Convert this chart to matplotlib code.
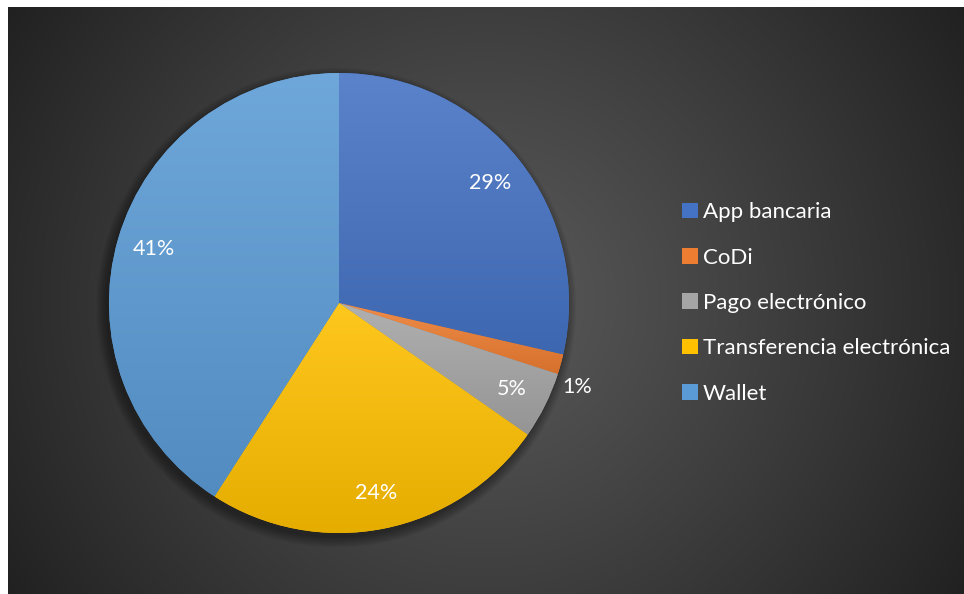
import numpy as np
import matplotlib
matplotlib.use("Agg")
from matplotlib import pyplot as plt
from matplotlib.colors import to_rgb
from matplotlib.patches import Patch, Circle

plt.rcParams['font.family'] = ['Lato', 'DejaVu Sans']

categories = ["App bancaria", "CoDi", "Pago electrónico",
              "Transferencia electrónica", "Wallet"]
shares = [28.6, 1.4, 4.7, 24.4, 40.9]
colors = ["#4472C4", "#ED7D31", "#A5A5A5", "#FFC000", "#5B9BD5"]

W, H = 964, 594
fig = plt.figure(figsize=(W / 100, H / 100), dpi=100)
fig.patch.set_facecolor("white")

# dark radial background, leaving a thin white margin left and top
bg = fig.add_axes([8 / W, 0, 1 - 8 / W, 1 - 7 / H])
bg.set_axis_off()
yy, xx = np.mgrid[0:1:400j, 0:1:600j]
d = np.sqrt(((xx - 0.5) * 1.6) ** 2 + (yy - 0.5) ** 2) / np.sqrt(0.8 ** 2 + 0.25)
shade = 0.35 - 0.22 * np.clip(d, 0, 1) ** 1.1
bg.imshow(np.dstack([shade] * 3), extent=(0, 1, 0, 1), aspect="auto",
          interpolation="bilinear")
bg.set_xlim(0, 1)
bg.set_ylim(0, 1)

# pie axes: centre at (339, 303) px, radius 230 px
cx, cy, r = 339, 303, 230
half = 250
ax = fig.add_axes([(cx - half) / W, (H - cy - half) / H, 2 * half / W, 2 * half / H])
ax.set_axis_off()
lim = half / r

# soft shadow under the pie
for k in range(8):
    ax.add_patch(Circle((-0.012, -0.02), 1.0 + 0.006 * k, color="black",
                        alpha=0.05, lw=0, zorder=0))

wedges, texts, autotexts = ax.pie(
    shares, colors=colors, startangle=90, counterclock=False,
    autopct="%.0f%%", pctdistance=0.84,
    wedgeprops=dict(linewidth=0),
    textprops=dict(color="white", fontsize=15.5))
ax.set_xlim(-lim, lim)
ax.set_ylim(-lim, lim)
ax.set_aspect("auto")

# vertical gradient inside every slice, lighter at the top
for w, c in zip(wedges, colors):
    base = np.array(to_rgb(c))
    top = base + (1 - base) * 0.12
    bot = base * 0.9
    t = np.linspace(0, 1, 256)[:, None]
    grad = top[None, :] * (1 - t) + bot[None, :] * t
    x0, y0, x1, y1 = w.get_path().get_extents(w.get_patch_transform()).extents
    im = ax.imshow(grad[:, None, :].repeat(2, axis=1), extent=(x0, x1, y0, y1),
                   aspect="auto", interpolation="bilinear", zorder=1.5)
    im.set_clip_path(w)
    w.set_zorder(1)
for t_ in autotexts:
    t_.set_zorder(3)

# the tiny CoDi slice gets its label outside
w = wedges[1]
mid = np.deg2rad((w.theta1 + w.theta2) / 2 - 4)
autotexts[1].set_position((1.1 * np.cos(mid), 1.1 * np.sin(mid)))

handles = [Patch(facecolor=c, edgecolor="none") for c in colors]
leg = fig.legend(handles, categories, loc="center left",
                 bbox_to_anchor=(662 / W, 1 - 303 / H), frameon=False,
                 fontsize=16, labelcolor="white", handlelength=0.7,
                 handleheight=0.7, handletextpad=0.25, labelspacing=1.14)

fig.savefig("out.png", dpi=100, facecolor=fig.get_facecolor())
